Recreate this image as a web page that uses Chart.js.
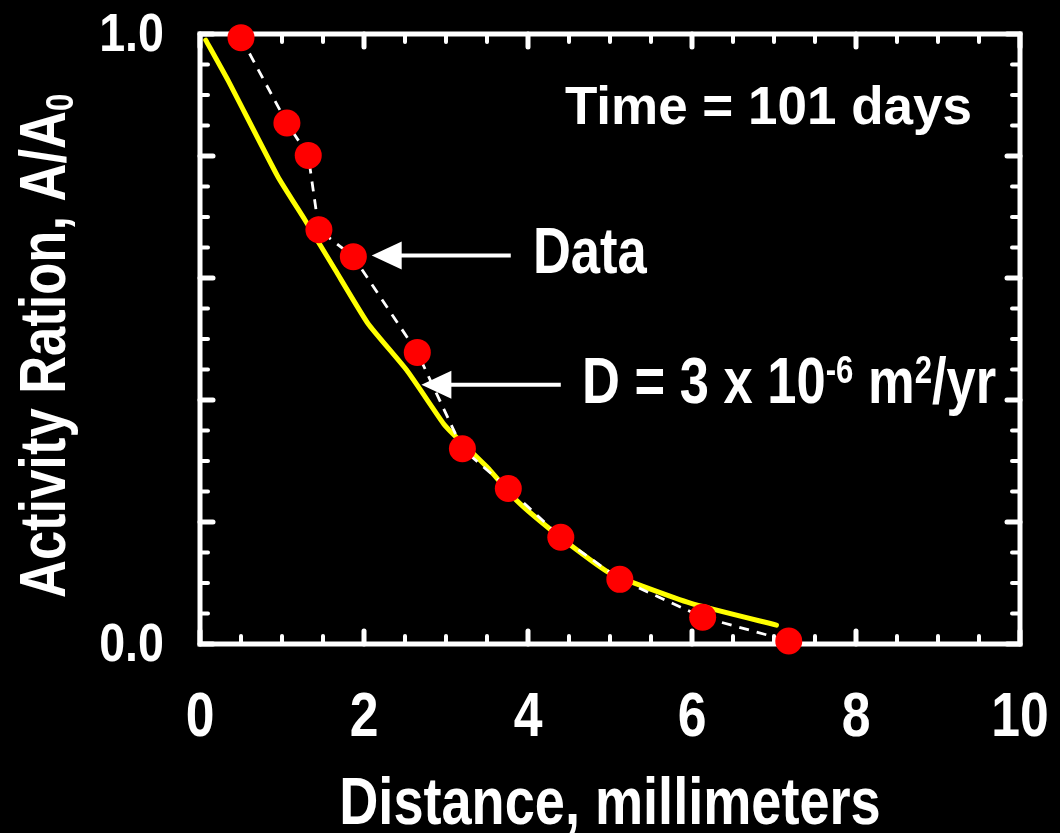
<!DOCTYPE html>
<html>
<head>
<meta charset="utf-8">
<script src="https://cdn.jsdelivr.net/npm/chart.js@4.4.1/dist/chart.umd.min.js"></script>
<style>
  html, body { margin: 0; padding: 0; background: #000; }
  canvas { display: block; }
</style>
</head>
<body>
<canvas id="chart" width="1060" height="833"></canvas>
<script>
// Measured activity ratio versus distance
const distance = [0.5, 1.06, 1.32, 1.45, 1.87, 2.65, 3.2, 3.76, 4.4, 5.12, 6.13, 7.18];
const activity = [0.994, 0.854, 0.801, 0.679, 0.635, 0.478, 0.32, 0.255, 0.175, 0.106, 0.044, 0.005];

// Diffusion model curve, D = 3e-6 m^2/yr
const modelDistance = [0.07, 0.35, 0.95, 1.28, 1.65, 2.05, 2.52, 2.97, 3.08, 3.5, 3.82, 4.02, 4.47, 5.0, 5.98, 7.03];
const modelActivity = [0.99, 0.922, 0.766, 0.695, 0.613, 0.525, 0.449, 0.361, 0.345, 0.29, 0.241, 0.216, 0.167, 0.116, 0.067, 0.031];

// Axis tick labels
const xTickLabels = [0, 2, 4, 6, 8, 10];
const yTickLabels = [0.0, 1.0];

const FAMILY = '"Liberation Sans", Arial, sans-serif';
const NARROW = 0.82; // horizontal squeeze giving a condensed bold face

// Writes text squeezed horizontally; returns the drawn width
function squeezed(ctx, text, x0, y0, size, sx, align) {
  ctx.font = 'bold ' + size + 'px ' + FAMILY;
  const w = ctx.measureText(text).width * sx;
  let left = x0;
  if (align === 'center') left = x0 - w / 2;
  else if (align === 'right') left = x0 - w;
  ctx.save();
  ctx.translate(left, y0);
  ctx.scale(sx, 1);
  ctx.textAlign = 'left';
  ctx.fillText(text, 0, 0);
  ctx.restore();
  return w;
}

// A run of pieces, each with its own size and baseline shift
function drawRuns(ctx, runs, x0, y0, sx) {
  let cx = x0;
  for (const r of runs) {
    cx += squeezed(ctx, r.text, cx, y0 - (r.rise || 0), r.size, sx, 'left');
  }
}

// Box frame with inward ticks on all four sides, plus tick labels
const framePlugin = {
  id: 'frame',
  beforeDatasetsDraw(chart) {
    const { ctx, chartArea: a, scales: { x, y } } = chart;
    ctx.save();
    ctx.strokeStyle = '#fff';
    ctx.fillStyle = '#fff';
    ctx.lineCap = 'round';
    const seg = (x1, y1, x2, y2) => { ctx.beginPath(); ctx.moveTo(x1, y1); ctx.lineTo(x2, y2); ctx.stroke(); };
    for (let i = 0; i <= 20; i++) {
      const major = i % 4 === 0;
      const len = major ? 13 : 8;
      ctx.lineWidth = major ? 5 : 4;
      const px = x.getPixelForValue(i * 0.5);
      seg(px, a.bottom, px, a.bottom - len);
      seg(px, a.top, px, a.top + len);
    }
    for (let i = 0; i <= 20; i++) {
      const major = i % 4 === 0;
      const len = major ? 13 : 8;
      ctx.lineWidth = major ? 5 : 4;
      const py = y.getPixelForValue(i * 0.05);
      seg(a.left, py, a.left + len, py);
      seg(a.right, py, a.right - len, py);
    }
    ctx.lineWidth = 5;
    ctx.lineCap = 'square';
    ctx.lineJoin = 'miter';
    ctx.strokeRect(a.left, a.top, a.right - a.left, a.bottom - a.top);

    // tick labels from each scale's own ticks
    ctx.textBaseline = 'alphabetic';
    for (const t of x.ticks) {
      squeezed(ctx, String(t.value), x.getPixelForValue(t.value), a.bottom + 92, 63, NARROW, 'center');
    }
    ctx.textBaseline = 'middle';
    for (const t of y.ticks) {
      squeezed(ctx, Number(t.value).toFixed(1), a.left - 36, y.getPixelForValue(t.value) + 2, 53, 0.88, 'right');
    }
    ctx.restore();
  }
};

function arrow(ctx, xTail, xTip, yPx) {
  const headLen = 30, headHalf = 14;
  ctx.lineWidth = 4;
  ctx.lineCap = 'butt';
  ctx.beginPath();
  ctx.moveTo(xTail, yPx);
  ctx.lineTo(xTip + headLen - 2, yPx);
  ctx.stroke();
  ctx.beginPath();
  ctx.moveTo(xTip, yPx);
  ctx.lineTo(xTip + headLen, yPx - headHalf);
  ctx.lineTo(xTip + headLen, yPx + headHalf);
  ctx.closePath();
  ctx.fill();
}

// Labels, arrows and axis titles
const notesPlugin = {
  id: 'notes',
  afterDatasetsDraw(chart) {
    const { ctx, chartArea: a, scales: { x, y } } = chart;
    ctx.save();
    ctx.fillStyle = '#fff';
    ctx.strokeStyle = '#fff';
    ctx.textBaseline = 'alphabetic';

    squeezed(ctx, 'Time = 101 days', x.getPixelForValue(4.45), y.getPixelForValue(0.853), 53, 1, 'left');

    arrow(ctx, x.getPixelForValue(3.79), x.getPixelForValue(2.094), y.getPixelForValue(0.637));
    squeezed(ctx, 'Data', x.getPixelForValue(4.06), y.getPixelForValue(0.608), 64, NARROW, 'left');

    arrow(ctx, x.getPixelForValue(4.4), x.getPixelForValue(2.7), y.getPixelForValue(0.425));
    drawRuns(ctx, [
      { text: 'D = 3 x 10', size: 64 },
      { text: '-6', size: 38, rise: 20 },
      { text: ' m', size: 64 },
      { text: '2', size: 38, rise: 20 },
      { text: '/yr', size: 64 }
    ], x.getPixelForValue(4.66), y.getPixelForValue(0.395), NARROW);

    // x-axis title
    squeezed(ctx, 'Distance, millimeters', (a.left + a.right) / 2, 824, 66, NARROW, 'center');

    // y-axis title, rotated
    ctx.translate(65, 598);
    ctx.rotate(-Math.PI / 2);
    drawRuns(ctx, [
      { text: 'Activity Ration, A/A', size: 64 },
      { text: '0', size: 38, rise: -8 }
    ], 0, 0, NARROW);
    ctx.restore();
  }
};

new Chart(document.getElementById('chart'), {
  type: 'scatter',
  data: {
    datasets: [
      {
        label: 'Data',
        data: distance.map((d, i) => ({ x: d, y: activity[i] })),
        showLine: true,
        borderColor: '#ffffff',
        borderWidth: 2.8,
        borderDash: [10, 8],
        pointRadius: 13.5,
        pointHoverRadius: 13.5,
        pointBackgroundColor: '#ff0000',
        pointBorderWidth: 0,
        clip: false
      },
      {
        label: 'D = 3 x 10-6 m2/yr',
        data: modelDistance.map((d, i) => ({ x: d, y: modelActivity[i] })),
        showLine: true,
        tension: 0.15,
        borderColor: '#ffff00',
        borderWidth: 5,
        borderCapStyle: 'round',
        borderJoinStyle: 'round',
        pointRadius: 0,
        pointHoverRadius: 0,
        clip: false
      }
    ]
  },
  options: {
    responsive: false,
    devicePixelRatio: 1,
    animation: false,
    events: [],
    layout: { padding: { top: 34, right: 40, left: 0, bottom: 0 } },
    plugins: { legend: { display: false }, tooltip: { enabled: false } },
    scales: {
      x: {
        type: 'linear',
        min: 0,
        max: 10,
        grid: { display: false, drawTicks: false },
        border: { display: false },
        afterBuildTicks: s => { s.ticks = xTickLabels.map(v => ({ value: v })); },
        afterFit: s => { s.height = 189; },
        ticks: { display: false }
      },
      y: {
        type: 'linear',
        min: 0,
        max: 1,
        grid: { display: false, drawTicks: false },
        border: { display: false },
        afterBuildTicks: s => { s.ticks = yTickLabels.map(v => ({ value: v })); },
        afterFit: s => { s.width = 200; },
        ticks: { display: false }
      }
    }
  },
  plugins: [framePlugin, notesPlugin]
});
</script>
</body>
</html>
